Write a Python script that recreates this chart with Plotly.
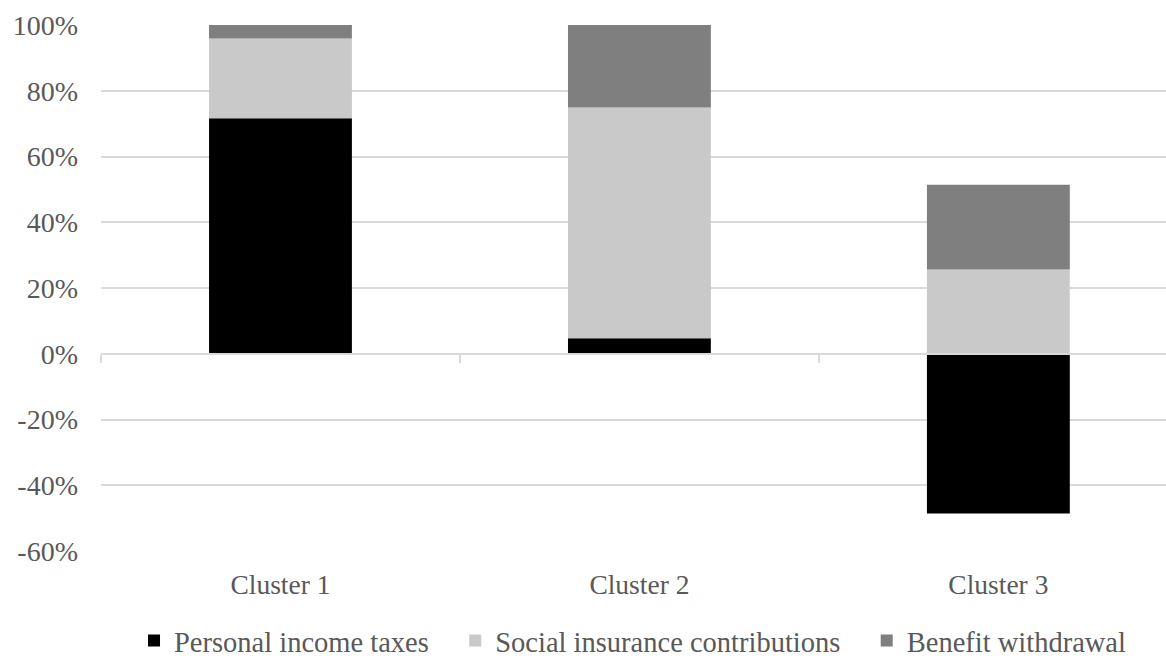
import plotly.graph_objects as go

# Composition of the tax wedge by cluster (percent of total)
clusters = ["Cluster 1", "Cluster 2", "Cluster 3"]
personal_income_taxes = [71.6, 4.7, -48.6]
social_insurance = [24.3, 70.2, 25.6]
benefit_withdrawal = [4.1, 25.1, 25.8]

y_ticks = [-60, -40, -20, 0, 20, 40, 60, 80, 100]
y_tick_labels = ["-60%", "-40%", "-20%", "0%", "20%", "40%", "60%", "80%", "100%"]

FONT = "Liberation Serif"
TEXT = "#595959"
GRID = "#d9d9d9"
PAD = "\u00a0\u00a0\u00a0"  # extra room between legend entries

fig = go.Figure()
fig.add_trace(go.Bar(name="Personal income taxes" + PAD, x=clusters, y=personal_income_taxes,
                     marker=dict(color="#000000", line=dict(width=0))))
fig.add_trace(go.Bar(name="Social insurance contributions" + PAD, x=clusters, y=social_insurance,
                     marker=dict(color="#c9c9c9", line=dict(width=0))))
fig.add_trace(go.Bar(name="Benefit withdrawal", x=clusters, y=benefit_withdrawal,
                     marker=dict(color="#7f7f7f", line=dict(width=0))))

# helper trace so the category axis drawn at zero gets its own overlay
fig.add_trace(go.Scatter(x=[-0.5], y=[0], xaxis="x2", mode="markers",
                         marker=dict(opacity=0), showlegend=False, hoverinfo="skip"))

y_min, y_max = y_ticks[0], y_ticks[-1]
x_range = [-0.5, 2.467]

fig.update_layout(
    width=1166, height=659,
    margin=dict(l=101, r=0, t=25, b=108, autoexpand=False),
    paper_bgcolor="white", plot_bgcolor="white",
    barmode="relative", bargap=0.602,
    font=dict(family=FONT, size=28, color=TEXT),
    showlegend=True,
    legend=dict(orientation="h", traceorder="normal", x=0.031, xanchor="left",
                y=-0.171, yanchor="middle", font=dict(family=FONT, size=28.5, color=TEXT),
                itemwidth=30),
    xaxis=dict(range=x_range, showline=False, ticks="", showgrid=False,
               ticklabelstandoff=14, tickfont=dict(family=FONT, size=27.5, color=TEXT)),
    xaxis2=dict(overlaying="x", anchor="free", position=(0 - y_min) / (y_max - y_min),
                range=x_range, type="linear", tickvals=[-0.5, 0.5, 1.5],
                ticks="outside", ticklen=8, tickwidth=1.5, tickcolor=GRID,
                showline=True, linecolor=GRID, linewidth=1.5,
                showticklabels=False, showgrid=False, zeroline=False),
    yaxis=dict(range=[y_min, y_max], tickvals=y_ticks, ticktext=y_tick_labels,
               showgrid=True, gridcolor=GRID, gridwidth=1.5,
               zeroline=False, showline=False, ticks="",
               ticklabelstandoff=22, tickfont=dict(family=FONT, size=28, color=TEXT)),
)

fig.write_html("out.html")
